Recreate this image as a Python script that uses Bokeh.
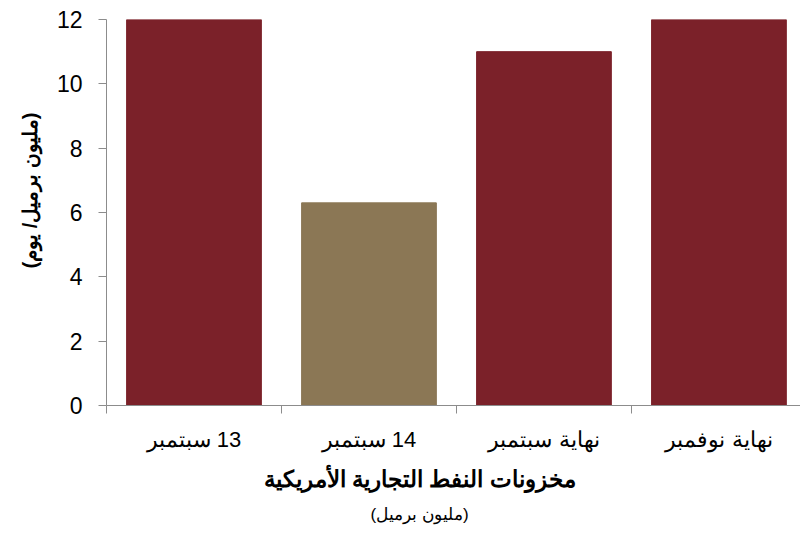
from bokeh.plotting import figure
from bokeh.models import Range1d, FixedTicker, LinearAxis, Title, ColumnDataSource
from bokeh.embed import file_html
from bokeh.resources import INLINE

categories = ["13 سبتمبر", "14 سبتمبر", "نهاية سبتمبر", "نهاية نوفمبر"]
values = [12, 6.3, 11, 12]
colors = ["#7B2129", "#8B7755", "#7B2129", "#7B2129"]
y_ticks = [0, 2, 4, 6, 8, 10, 12]
x_title = "مخزونات النفط التجارية الأمريكية"
x_subtitle = "(مليون برميل)"
y_title = "(مليون برميل/ يوم)"

FONT = "Liberation Sans"
GRAY = "#8C8C8C"
RLM = "\u200F"

positions = [i + 0.5 for i in range(len(categories))]
bounds = [float(i) for i in range(len(categories) + 1)]

p = figure(width=800, height=538, output_backend="svg", toolbar_location=None,
           x_range=Range1d(0, 3.966), y_range=Range1d(0, 12),
           x_axis_location=None, y_axis_location=None,
           min_border_left=106, min_border_right=0, min_border_top=19, min_border_bottom=133)
p.outline_line_color = None
p.grid.visible = False

src = ColumnDataSource(dict(x=positions, top=values, color=colors))
p.vbar(x="x", top="top", width=0.77, color="color", source=src)

yax = LinearAxis(ticker=FixedTicker(ticks=y_ticks),
                 major_tick_out=8, major_tick_in=0, minor_tick_out=0, minor_tick_in=0,
                 axis_line_color=GRAY, major_tick_line_color=GRAY,
                 major_label_text_font=FONT, major_label_text_font_size="23px",
                 major_label_text_color="black", major_label_standoff=16)
p.add_layout(yax, "left")

xax = LinearAxis(ticker=FixedTicker(ticks=positions, minor_ticks=bounds),
                 major_label_overrides={pos: RLM + cat for pos, cat in zip(positions, categories)},
                 major_tick_line_color=None, major_tick_out=0, major_tick_in=0,
                 minor_tick_out=8, minor_tick_in=0, minor_tick_line_color=GRAY,
                 axis_line_color=GRAY,
                 major_label_text_font=FONT, major_label_text_font_size="22px",
                 major_label_text_color="black", major_label_standoff=13)
p.add_layout(xax, "below")

p.add_layout(Title(text=x_title, align="left", offset=157, standoff=18,
                   text_font=FONT, text_font_size="23px", text_font_style="bold",
                   text_color="black"), "below")
p.add_layout(Title(text=x_subtitle, align="left", offset=264, standoff=5,
                   text_font=FONT, text_font_size="17px", text_font_style="normal",
                   text_color="black"), "below")
p.add_layout(Title(text=y_title, align="left", offset=137, standoff=25,
                   text_font=FONT, text_font_size="20px", text_font_style="bold",
                   text_color="black"), "left")

open("out.html", "w").write(file_html(p, INLINE))
